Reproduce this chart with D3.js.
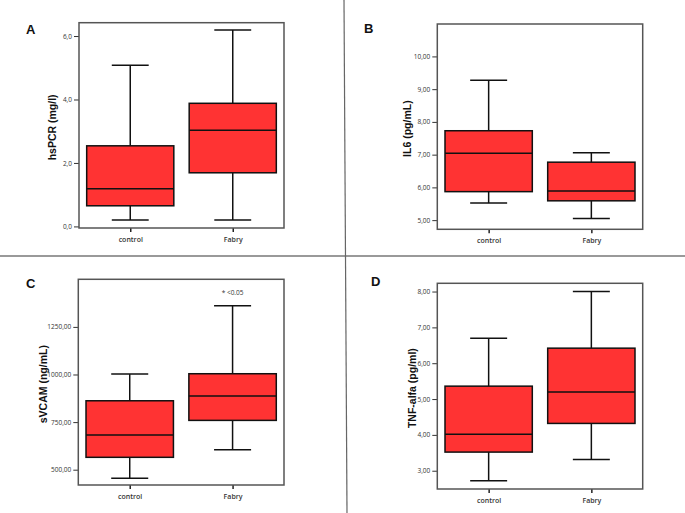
<!DOCTYPE html>
<html><head><meta charset="utf-8">
<script src="https://cdn.jsdelivr.net/npm/d3@7"></script>
<style>body{margin:0;background:#fff}svg{display:block}</style>
</head><body>
<svg id="chart" width="685" height="513"></svg>
<script>
// ---- data ----
const categories = ["control", "Fabry"];
const panelLetters = ["A", "B", "C", "D"];
const yTitles = ["hsPCR (mg/l)", "IL6 (pg/mL)", "sVCAM (ng/mL)", "TNF-alfa (pg/ml)"];
// [min, Q1, median, Q3, max] per category
const hsPCR = [[0.20, 0.65, 1.19, 2.54, 5.08], [0.20, 1.69, 3.03, 3.88, 6.19]];
const il6 = [[5.52, 5.87, 7.04, 7.73, 9.27], [5.05, 5.59, 5.89, 6.77, 7.06]];
const sVCAM = [[455, 565, 682, 862, 1002], [605, 759, 887, 1004, 1361]];
const tnfAlfa = [[2.72, 3.52, 4.02, 5.36, 6.70], [3.31, 4.32, 5.20, 6.42, 8.00]];
const hsPCRTicks = [0, 2, 4, 6];
const il6Ticks = [5, 6, 7, 8, 9, 10];
const sVCAMTicks = [500, 750, 1000, 1250];
const tnfTicks = [3, 4, 5, 6, 7, 8];
const tickDecimals = [1, 2, 2, 2];
const annotations = ["", "", "* <0.05", ""];

// ---- layout ----
const panels = [
  {stats: hsPCR, ticks: hsPCRTicks, domain: [-0.05, 6.42], x0: 79, x1: 284, y0: 22.7, y1: 228, titleX: 52, letterX: 26, letterY: 33.5},
  {stats: il6, ticks: il6Ticks, domain: [4.72, 10.99], x0: 437.3, x1: 642.7, y0: 24, y1: 229.3, titleX: 407, letterX: 364, letterY: 32.5},
  {stats: sVCAM, ticks: sVCAMTicks, domain: [419.6, 1500], x0: 78.3, x1: 284, y0: 279.3, y1: 485, titleX: 43, letterX: 26, letterY: 288},
  {stats: tnfAlfa, ticks: tnfTicks, domain: [2.49, 8.23], x0: 437.3, x1: 642.7, y0: 283.3, y1: 489, titleX: 412, letterX: 371, letterY: 286}
];

const svg = d3.select("#chart");

// dividers
svg.append("line").attr("x1", 0).attr("x2", 685).attr("y1", 256).attr("y2", 256)
  .attr("stroke", "#777").attr("stroke-width", 1.5);
svg.append("line").attr("x1", 344).attr("x2", 347).attr("y1", 0).attr("y2", 513)
  .attr("stroke", "#666").attr("stroke-width", 1.2);

panels.forEach((p, i) => {
  const g = svg.append("g");
  const W = p.x1 - p.x0;
  const x = d3.scalePoint().domain(categories).range([p.x0, p.x1]).padding(0.5);
  const y = d3.scaleLinear().domain(p.domain).range([p.y1, p.y0]);
  const boxW = 0.425 * W, capW = 0.18 * W;
  const fmt = v => d3.format("." + tickDecimals[i] + "f")(v).replace(".", ",");

  // y axis
  const yAxis = d3.axisLeft(y).tickValues(p.ticks).tickSize(5).tickPadding(2).tickFormat(fmt);
  const ya = g.append("g").attr("transform", `translate(${p.x0},0)`).call(yAxis);
  ya.select(".domain").remove();
  ya.selectAll("line").attr("stroke", "#333").attr("stroke-width", 1);
  ya.selectAll("text").attr("font-family", "'Open Sans', sans-serif").attr("font-size", 6.5).attr("fill", "#333");

  // x axis
  const xAxis = d3.axisBottom(x).tickSize(4).tickPadding(5);
  const xa = g.append("g").attr("transform", `translate(0,${p.y1})`).call(xAxis);
  xa.select(".domain").remove();
  xa.selectAll("line").attr("stroke", "#222").attr("stroke-width", 1.5);
  xa.selectAll("text").attr("font-family", "'Open Sans', sans-serif").attr("font-size", 7).attr("font-weight", 600).attr("fill", "#333");

  // frame
  g.append("rect").attr("x", p.x0).attr("y", p.y0).attr("width", W).attr("height", p.y1 - p.y0)
    .attr("fill", "none").attr("stroke", "#555").attr("stroke-width", 1.5);

  // boxes
  categories.forEach((c, k) => {
    const s = p.stats[k];
    const cx = x(c);
    const bg = g.append("g").attr("stroke", "#111").attr("stroke-width", 1.5);
    bg.append("line").attr("x1", cx).attr("x2", cx).attr("y1", y(s[4])).attr("y2", y(s[3]));
    bg.append("line").attr("x1", cx).attr("x2", cx).attr("y1", y(s[1])).attr("y2", y(s[0]));
    bg.append("line").attr("x1", cx - capW / 2).attr("x2", cx + capW / 2).attr("y1", y(s[4])).attr("y2", y(s[4]));
    bg.append("line").attr("x1", cx - capW / 2).attr("x2", cx + capW / 2).attr("y1", y(s[0])).attr("y2", y(s[0]));
    bg.append("rect").attr("x", cx - boxW / 2).attr("y", y(s[3])).attr("width", boxW)
      .attr("height", y(s[1]) - y(s[3])).attr("fill", "#ff3333");
    bg.append("line").attr("x1", cx - boxW / 2).attr("x2", cx + boxW / 2).attr("y1", y(s[2])).attr("y2", y(s[2]));
  });

  // annotation
  if (annotations[i]) {
    g.append("text").attr("x", x("Fabry")).attr("y", p.y0 + 16).attr("text-anchor", "middle")
      .attr("font-family", "'Open Sans', sans-serif").attr("font-size", 6.5).attr("fill", "#333")
      .text(annotations[i]);
  }

  // y title
  const cy = (p.y0 + p.y1) / 2 + 2;
  g.append("text").attr("transform", `translate(${p.titleX},${cy}) rotate(-90)`)
    .attr("text-anchor", "middle").attr("dominant-baseline", "central")
    .attr("font-family", "'Liberation Sans', Arial, sans-serif").attr("font-weight", "bold")
    .attr("font-size", 10.5).attr("fill", "#111").text(yTitles[i]);

  // panel letter
  g.append("text").attr("x", p.letterX).attr("y", p.letterY)
    .attr("font-family", "'Liberation Sans', Arial, sans-serif").attr("font-weight", "bold")
    .attr("font-size", 13).attr("fill", "#111").text(panelLetters[i]);
});
</script>
</body></html>
